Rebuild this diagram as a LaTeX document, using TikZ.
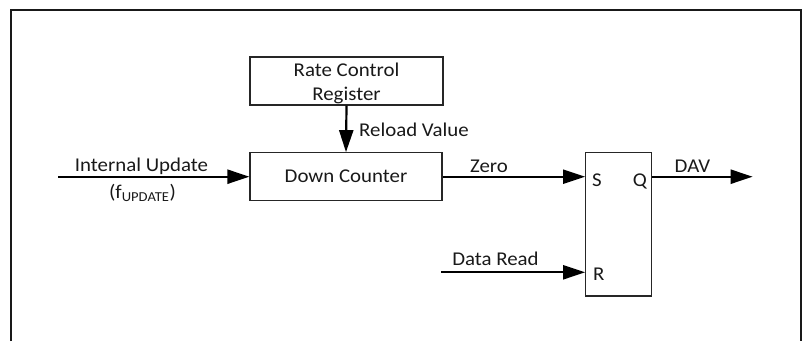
\documentclass[tikz,border=0pt]{standalone}
\usepackage{fontspec}
\setmainfont{Carlito}[FakeStretch=1.07]
\usetikzlibrary{arrows.meta}
\begin{document}
\begin{tikzpicture}[x=1pt,y=1pt,
  every node/.style={font=\fontsize{19.5pt}{25pt}\selectfont, text=black!90},
  blockbox/.style={draw=black!85, line width=1.1pt, inner sep=0pt, fill=white},
  sig/.style={line width=2.2pt, -{Triangle[length=22pt,width=14pt]}},
  lbl/.style={anchor=base, inner sep=0pt}]
\useasboundingbox (0,0) rectangle (806,-341);
\draw[line width=2pt, black!90] (11,-341) -- (11,-10.3) -- (801,-10.3) -- (801,-341);

\node[blockbox, minimum width=193pt, minimum height=48pt] (rcr) at (346.5,-81) {};
\node[lbl] (rcr1) at (346.5,-76) {Rate Control};
\node[lbl] (rcr2) at (346.5,-100) {Register};

\node[blockbox, minimum width=192pt, minimum height=48pt] (dc) at (346,-176.7) {};
\node[lbl] (dct) at (346,-182.7) {Down Counter};

\node[blockbox, minimum width=66pt, minimum height=143.3pt] (sr) at (618.7,-224.3) {};
\node[lbl, anchor=base west] (ls) at (592,-186) {S};
\node[lbl, anchor=base east] (lq) at (647,-186) {Q};
\node[lbl, anchor=base west] (lr) at (593,-280) {R};

\coordinate (inp) at (58,-176.7);
\coordinate (drd) at (441,-272.3);
\coordinate (dav) at (752.7,-176.7);

\draw[sig] (inp) -- (dc.west);
\draw[sig] (rcr.south) -- (dc.north);
\draw[sig] (dc.east) -- (dc.east -| sr.west);
\draw[sig] (drd) -- (drd -| sr.west);
\draw[sig] (sr.east |- dav) -- (dav);

\node[lbl] (tin) at (141.5,-171) {Internal Update};
\node[lbl] (tfu) at (142.5,-198) {(f\textsubscript{UPDATE})};
\node[lbl, anchor=base west] (trv) at (359,-136) {Reload Value};
\node[lbl] (tz) at (489,-172) {Zero};
\node[lbl] (tdav) at (692.5,-172) {DAV};
\node[lbl] (tdr) at (495.5,-265) {Data Read};
\end{tikzpicture}
\end{document}
